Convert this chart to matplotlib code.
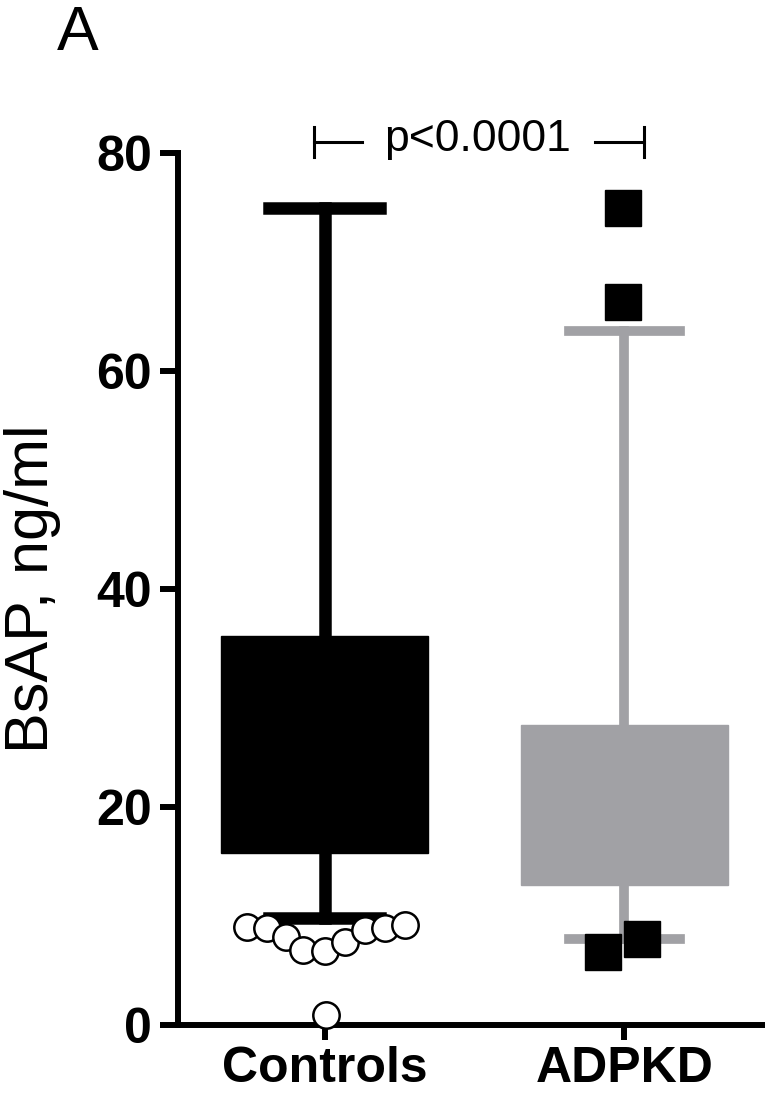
import matplotlib
matplotlib.use("Agg")
import matplotlib.pyplot as plt

plt.rcParams['font.family'] = ['Liberation Sans', 'DejaVu Sans']

# group summary values (ng/ml)
groups = ['Controls', 'ADPKD']
q1 = [15.8, 12.8]
q3 = [35.7, 27.5]
medians = [24.0, 18.0]
whis_lo = [9.8, 7.9]
whis_hi = [75.0, 63.7]

# outliers: horizontal offsets within group and values
ctrl_dx = [-0.26, -0.193, -0.13, -0.073, 0.0, 0.067, 0.133, 0.2, 0.267, 0.003]
ctrl_out = [9.0, 8.9, 8.1, 6.9, 6.8, 7.6, 8.7, 8.9, 9.2, 0.9]
adpkd_dx = [-0.07, 0.06, -0.005, -0.005]
adpkd_out = [6.7, 7.9, 75.0, 66.3]

p_text = 'p<0.0001'

black = '#000000'
gray = '#a1a1a5'
colors = [black, gray]

fig = plt.figure(figsize=(7.65, 11.08), dpi=100)
ax = fig.add_axes([0.2327, 0.0749, 0.7673, 0.7870])

stats = []
for i, g in enumerate(groups):
    stats.append({'label': g, 'q1': q1[i], 'q3': q3[i], 'med': medians[i],
                  'whislo': whis_lo[i], 'whishi': whis_hi[i], 'fliers': []})

lws = [9.0, 7.0]
for i, st in enumerate(stats):
    c = colors[i]
    ax.bxp([st], positions=[i + 1], widths=0.69, patch_artist=True,
           showfliers=False, capwidths=0.37,
           boxprops=dict(facecolor=c, edgecolor=c, linewidth=1),
           whiskerprops=dict(color=c, linewidth=lws[i]),
           capprops=dict(color=c, linewidth=lws[i]),
           medianprops=dict(color=c, linewidth=1))

ax.plot([1 + d for d in ctrl_dx], ctrl_out, 'o', ms=19, mfc='white',
        mec=black, mew=1.8, zorder=5, clip_on=False)
ax.plot([2 + d for d in adpkd_dx], adpkd_out, 's', ms=26, mfc=black,
        mec=black, zorder=5, clip_on=False)

ax.set_xlim(0.51, 2.47)
ax.set_ylim(0, 80)
ax.set_yticks([0, 20, 40, 60, 80])
ax.set_xticks([1, 2])
ax.set_xticklabels(groups)
for s in ['top', 'right']:
    ax.spines[s].set_visible(False)
for s in ['left', 'bottom']:
    ax.spines[s].set_linewidth(4.3)
ax.tick_params(axis='y', length=13, width=4.3, pad=6, labelsize=36)
ax.tick_params(axis='x', length=11, width=4.3, pad=4, labelsize=36)
for lab in ax.get_xticklabels() + ax.get_yticklabels():
    lab.set_fontweight('bold')

fig.text(33 / 765, 1 - 589 / 1108, 'BsAP, ng/ml', rotation=90,
         ha='center', va='center', fontsize=44)

# significance bracket
yb = 81.0
ax.plot([0.963, 1.125], [yb, yb], color=black, lw=2.2, clip_on=False)
ax.plot([0.963, 0.963], [yb - 1.4, yb + 1.4], color=black, lw=2.2, clip_on=False)
ax.plot([1.903, 2.067], [yb, yb], color=black, lw=2.2, clip_on=False)
ax.plot([2.067, 2.067], [yb - 1.4, yb + 1.4], color=black, lw=2.2, clip_on=False)
ax.text(1.51, yb + 0.2, p_text, ha='center', va='center', fontsize=32)

fig.text(78 / 765, 1 - 33 / 1108, 'A', ha='center', va='center', fontsize=45)

fig.savefig('out.png', dpi=100)
